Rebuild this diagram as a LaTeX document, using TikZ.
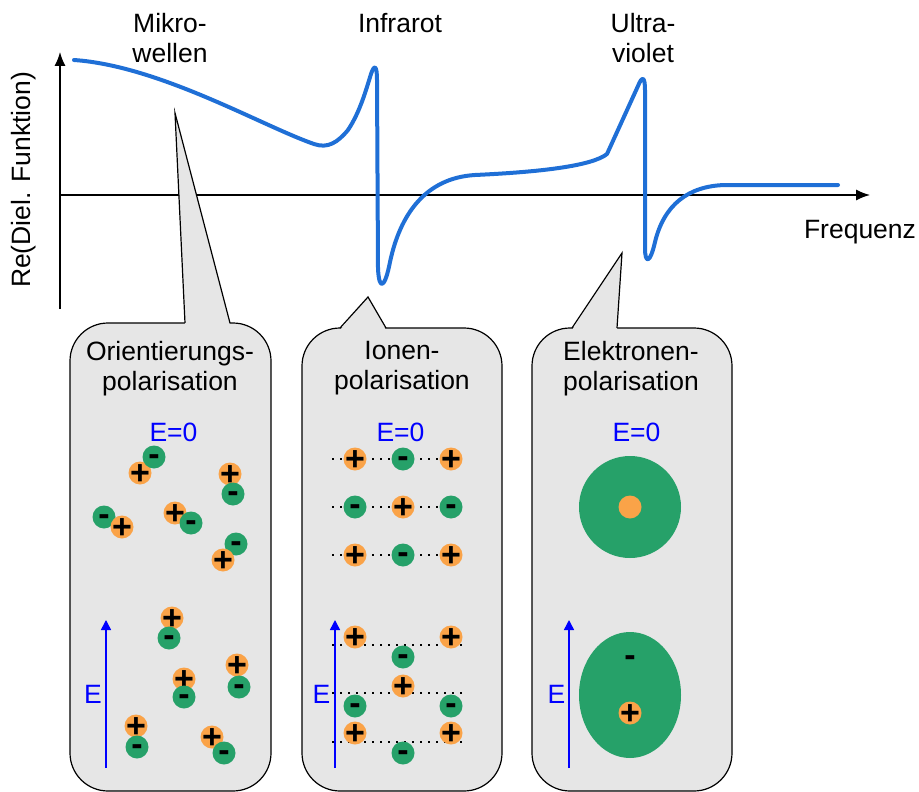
\documentclass[tikz,border=0pt]{standalone}
\usepackage{fontspec}
\setmainfont{Liberation Sans}
\usetikzlibrary{arrows.meta,shapes.geometric}
\definecolor{kurvenblau}{RGB}{31,111,214}
\definecolor{boxgrau}{RGB}{230,230,230}
\definecolor{kation}{RGB}{250,163,72}
\definecolor{anion}{RGB}{38,161,105}
\newcommand\ladplus{\raisebox{-.35em}[0pt][0pt]{\makebox[0pt]{+}}}
\newcommand\ladminus{\raisebox{-.26em}[0pt][0pt]{\makebox[0pt]{-}}}
\tikzset{
  txt/.style={font=\fontsize{26.5}{30}\selectfont,align=center},
  btxt/.style={txt,text=blue},
  rand/.style={draw=black,line width=1.2pt},
  box/.style={rand,fill=boxgrau,rounded corners=38pt},
  kurve/.style={kurvenblau,line width=4pt,line join=round,line cap=round},
  feld/.style={blue,line width=1.5pt,-{Triangle[length=10pt,width=10pt]}},
  gitter/.style={line width=1.2pt,dash pattern=on 1.5pt off 6.5pt},
  qfont/.style={font=\bfseries\fontsize{34}{34}\selectfont},
  pq/.style={circle,fill=kation,inner sep=0pt,minimum size=23pt,qfont,node contents=\ladplus},
  nq/.style={pq,fill=anion,node contents=\ladminus}
}
\begin{document}
\begin{tikzpicture}[x=1pt,y=-1pt]
\useasboundingbox (0,0) rectangle (919,792);
% Achsen
\coordinate (O) at (60,195);
\coordinate (ymin) at (60,309);
\coordinate (ymax) at (60,52);
\coordinate (xmax) at (870,195);
\draw[line width=1.3pt,-{Latex[length=14pt,width=11pt]}] (ymin)--(ymax);
\draw[line width=1.3pt,-{Latex[length=14pt,width=11pt]}] (O)--(xmax);
\node[txt,rotate=90] (re) at (24,180) {Re(Diel. Funktion)};
\node[txt] (fq) at (860,232.5) {Frequenz};
\node[txt] (mw) at (170,38.4) {Mikro-\\wellen};
\node[txt] (ir) at (400,23.4) {Infrarot};
\node[txt] (uv) at (643,38.4) {Ultra-\\violet};
% Verlauf der dielektrischen Funktion
\draw[kurve] (74,60) .. controls (160,66) and (262,126) .. (314,144)
 .. controls (328,149) and (338,142) .. (348,130)
 .. controls (360,112) and (366,90) .. (371,74)
 .. controls (374,65) and (377,64) .. (377,80) -- (378,268)
 .. controls (379,292) and (385,288) .. (390,262)
 .. controls (400,215) and (425,178) .. (475,175)
 .. controls (540,172) and (592,166) .. (607,154) -- (638,86)
 .. controls (642,76) and (645,76) .. (645,90) -- (645,248)
 .. controls (645,264) and (650,264) .. (655,242)
 .. controls (664,205) and (688,186) .. (725,185) -- (838,185);
% Sprechblasen
\coordinate (z1) at (175,113);
\coordinate (z2) at (368,297);
\coordinate (z3) at (622,253);
\path[box] (70,323) rectangle (271,791);
\path[box] (302,328) rectangle (502,791);
\path[box] (532,328) rectangle (732,791);
\fill[boxgrau] (185,325)--(z1)--(230,325)--cycle
  (340,330)--(z2)--(386,330)--cycle
  (572,330)--(z3)--(617,330)--cycle;
\draw[rand,line join=miter] (185,323)--(z1)--(230,323)
  (340,328)--(z2)--(386,328) (572,328)--(z3)--(617,328);
\node[txt] (t1) at (170,368.5) {Orientierungs-\\polarisation};
\node[txt] (t2) at (402,368.5) {Ionen-\\polarisation};
\node[txt] (t3) at (631,368.5) {Elektronen-\\polarisation};
\node[btxt] (e01) at (173.5,432) {E=0};
\node[btxt] (e02) at (400.5,432) {E=0};
\node[btxt] (e03) at (636.5,432) {E=0};
\foreach \x/\n in {106/1,335/2,569/3}
  \draw[feld] (\x,768) coordinate (f\n) -- (\x,620);
\node[btxt] (e1) at (93,694) {E};
\node[btxt] (e2) at (321.5,694) {E};
\node[btxt] (e3) at (556.5,694) {E};
% Orientierungspolarisation: Dipole
\foreach \s/\x/\y [count=\i] in {pq/140/473,nq/154/457,pq/230/474,nq/233/494,
  nq/104/517,pq/122/527,pq/175/513,nq/191/523,nq/236/544,pq/223/560,
  pq/172/618,nq/169/638,pq/184/679,nq/184/697,pq/237/665,nq/239/687,
  pq/136/726,nq/137/747,pq/212/737,nq/224/753}
  \node (o\i) at (\x,\y) [\s];
% Ionenpolarisation: Gitter
\foreach \y in {459,507,555,645,693,742}
  \draw[gitter] (332,\y)--(468,\y);
\foreach \s/\x/\y [count=\i] in {pq/355/459,nq/403/459,pq/451/459,
  nq/355/507,pq/403/507,nq/451/507,pq/355/555,nq/403/555,pq/451/555,
  pq/355/637,pq/451/637,nq/403/657,pq/403/686,nq/355/706,nq/451/706,
  pq/355/733,pq/451/733,nq/403/753}
  \node (i\i) at (\x,\y) [\s];
% Elektronenpolarisation: Atom
\node[circle,fill=anion,minimum size=102pt,inner sep=0pt] (h0) at (630,507) {};
\node[circle,fill=kation,minimum size=23pt,inner sep=0pt] (k0) at (h0) {};
\node[ellipse,fill=anion,minimum width=102pt,minimum height=126pt,inner sep=0pt] (h1) at (630,695) {};
\node (m1) at (630,658) [qfont,node contents=\ladminus];
\node (k1) at (630,713) [pq];
\end{tikzpicture}
\end{document}
